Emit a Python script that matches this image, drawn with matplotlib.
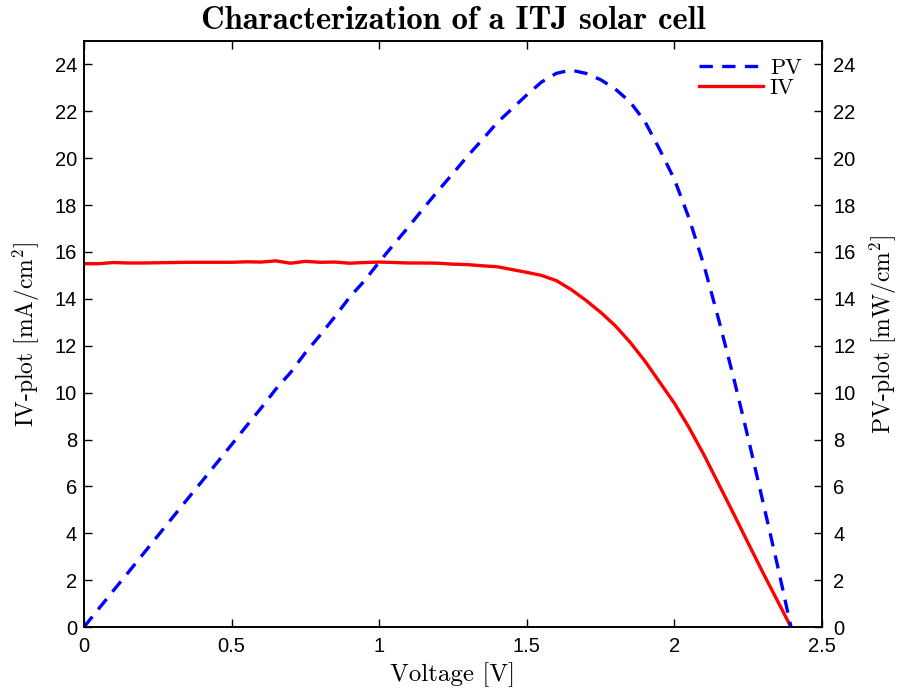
import matplotlib
matplotlib.use("Agg")
import matplotlib.pyplot as plt

voltage = [0.00, 0.05, 0.10, 0.15, 0.20, 0.25, 0.30, 0.35, 0.40, 0.45,
           0.50, 0.55, 0.60, 0.65, 0.70, 0.75, 0.80, 0.85, 0.90, 0.95,
           1.00, 1.05, 1.10, 1.15, 1.20, 1.25, 1.30, 1.35, 1.40, 1.45,
           1.50, 1.55, 1.60, 1.65, 1.70, 1.75, 1.80, 1.85, 1.90, 1.95,
           2.00, 2.05, 2.10, 2.15, 2.20, 2.25, 2.30, 2.35, 2.395]

iv = [15.50, 15.50, 15.55, 15.53, 15.53, 15.54, 15.55, 15.56, 15.56, 15.56,
      15.56, 15.58, 15.57, 15.62, 15.52, 15.60, 15.56, 15.57, 15.52, 15.55,
      15.57, 15.55, 15.53, 15.53, 15.52, 15.48, 15.46, 15.41, 15.37, 15.25,
      15.13, 15.00, 14.78, 14.40, 13.94, 13.43, 12.85, 12.15, 11.35, 10.45,
      9.55, 8.50, 7.35, 6.10, 4.85, 3.58, 2.32, 1.10, 0.00]

pv = [0.00, 0.78, 1.56, 2.33, 3.11, 3.89, 4.67, 5.45, 6.22, 7.00,
      7.78, 8.57, 9.34, 10.15, 10.86, 11.70, 12.45, 13.24, 14.07, 14.77,
      15.57, 16.33, 17.08, 17.86, 18.62, 19.35, 20.10, 20.80, 21.52, 22.11,
      22.70, 23.25, 23.62, 23.76, 23.62, 23.35, 22.95, 22.40, 21.57, 20.38,
      19.10, 17.43, 15.44, 13.12, 10.67, 8.06, 5.34, 2.59, 0.00]

yticks = list(range(0, 25, 2))
xticks = [0, 0.5, 1, 1.5, 2, 2.5]
xticklabels = ["0", "0.5", "1", "1.5", "2", "2.5"]

plt.rcParams["mathtext.fontset"] = "cm"
plt.rcParams["axes.unicode_minus"] = False
tick_font = ["Liberation Sans", "DejaVu Sans"]

fig = plt.figure(figsize=(9, 6.95), dpi=100)
ax = fig.add_axes([0.0933, 0.0978, 0.82, 0.8432])
ax2 = ax.twinx()

l_pv, = ax2.plot(voltage, pv, "--", color="blue", lw=2.4, dashes=(4, 2.8))
l_iv, = ax.plot(voltage, iv, "-", color="red", lw=2.4)

for a in (ax, ax2):
    a.set_xlim(0, 2.5)
    a.set_ylim(0, 25)
    a.set_yticks(yticks)
    a.set_yticklabels([str(t) for t in yticks], family=tick_font)
    a.tick_params(direction="in", length=6, width=1, labelsize=14.5)
    for s in a.spines.values():
        s.set_linewidth(1.2)

ax.set_xticks(xticks)
ax.set_xticklabels(xticklabels, family=tick_font)
ax.tick_params(axis="x", top=True, pad=7)
ax.tick_params(axis="y", right=False, pad=5)
ax2.tick_params(axis="y", left=False, right=True, pad=8)

ax.set_xlabel("Voltage [V]", family="cmr10", fontsize=18, labelpad=5)
ax.set_ylabel("IV-plot [mA/cm$^2$]", family="cmr10", fontsize=17, labelpad=9)
ax2.set_ylabel("PV-plot [mW/cm$^2$]", family="cmr10", fontsize=17,
               rotation=90, labelpad=9)
ax.set_title("Characterization of a ITJ solar cell", family="cmb10",
             fontsize=23.5, pad=9)

leg = ax.legend([l_pv, l_iv], ["PV", "IV"], loc="upper left",
                bbox_to_anchor=(0.833, 0.970), frameon=False,
                prop={"family": "cmr10", "size": 16},
                handlelength=2.9, handletextpad=0.3, labelspacing=0.0,
                borderpad=0, borderaxespad=0)

fig.savefig("out.png", dpi=100, facecolor="white")
